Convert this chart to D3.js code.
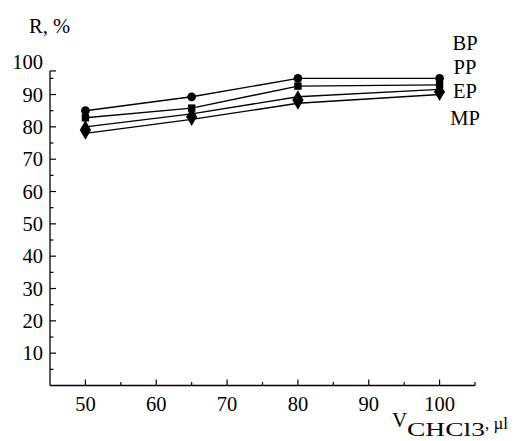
<!DOCTYPE html>
<html>
<head>
<meta charset="utf-8">
<script src="https://cdn.jsdelivr.net/npm/d3@7"></script>
<style>
    body { margin: 0; background: #fff; }
    svg text { font-family: "Liberation Serif", "DejaVu Serif", serif; fill: #000; }
</style>
</head>
<body>
<div id="plot"></div>
<script>
var volumes = [50, 65, 80, 100];
var seriesNames = ["BP", "PP", "EP", "MP"];
var bpValues = [85.0, 89.3, 95.0, 95.0];
var ppValues = [82.8, 85.8, 92.6, 93.0];
var epValues = [80.0, 84.0, 89.3, 91.6];
var mpValues = [78.0, 82.3, 87.3, 90.0];
var xTicks = [50, 60, 70, 80, 90, 100];
var yTicks = [10, 20, 30, 40, 50, 60, 70, 80, 90, 100];

var width = 516;
var height = 441;

var svg = d3
    .select("#plot")
    .append("svg")
    .attr("width", width)
    .attr("height", height)
    .attr("font-family", "Liberation Serif");

svg.append("rect").attr("width", width).attr("height", height).attr("fill", "#fff");

var x = d3.scaleLinear().domain([45, 105]).range([50, 475]);
var y = d3.scaleLinear().domain([0, 100]).range([385.5, 62.2]);
var yTop = 97.3;

// axes lines
svg.append("line")
    .attr("x1", x(45)).attr("x2", x(105))
    .attr("y1", y(0)).attr("y2", y(0))
    .attr("stroke", "#000").attr("stroke-width", 1.3);
svg.append("line")
    .attr("x1", x(45)).attr("x2", x(45))
    .attr("y1", y(0)).attr("y2", y(yTop))
    .attr("stroke", "#000").attr("stroke-width", 1.3);

// x ticks (inward)
var xMinor = d3.range(50, 106, 5);
svg.selectAll(".xtick")
    .data(xMinor)
    .enter()
    .append("line")
    .attr("x1", (d) => x(d)).attr("x2", (d) => x(d))
    .attr("y1", y(0))
    .attr("y2", (d) => y(0) - (d % 10 == 0 ? 6 : 3.5))
    .attr("stroke", "#000").attr("stroke-width", 1.2);
svg.selectAll(".xlabel")
    .data(xTicks)
    .enter()
    .append("text")
    .attr("x", (d) => x(d))
    .attr("y", 411)
    .attr("text-anchor", "middle")
    .style("font-size", "20.5px")
    .text((d) => d);

// y ticks (inward)
var yMinor = d3.range(5, 96, 5).concat([yTop]);
svg.selectAll(".ytick")
    .data(yMinor)
    .enter()
    .append("line")
    .attr("x1", x(45))
    .attr("x2", (d) => x(45) + (d % 10 == 0 || d == yTop ? 6 : 3.5))
    .attr("y1", (d) => y(d)).attr("y2", (d) => y(d))
    .attr("stroke", "#000").attr("stroke-width", 1.2);
svg.selectAll(".ylabel")
    .data(yTicks)
    .enter()
    .append("text")
    .attr("x", 43)
    .attr("y", (d) => y(d) + 7)
    .attr("text-anchor", "end")
    .style("font-size", "20.5px")
    .text((d) => d);

// axis titles
svg.append("text")
    .attr("x", 29).attr("y", 33)
    .style("font-size", "20.5px")
    .text("R, %");

svg.append("text")
    .attr("x", 392).attr("y", 427)
    .style("font-size", "21px")
    .text("V");
svg.append("text")
    .attr("x", 407).attr("y", 436)
    .style("font-size", "19px")
    .attr("textLength", 78)
    .attr("lengthAdjust", "spacingAndGlyphs")
    .text("CHCl3");
svg.append("text")
    .attr("x", 485).attr("y", 429)
    .style("font-size", "17px")
    .text(", \u00b5l");

// series
var series = [
    { name: "BP", values: bpValues, marker: d3.symbolCircle },
    { name: "PP", values: ppValues, marker: d3.symbolSquare },
    { name: "EP", values: epValues, marker: d3.symbolTriangle },
    { name: "MP", values: mpValues, marker: "down" },
];

var line = d3.line()
    .x((d) => x(d[0]))
    .y((d) => y(d[1]));

series.forEach(function (s) {
    var pts = volumes.map((v, i) => [v, s.values[i]]);
    svg.append("path")
        .attr("d", line(pts))
        .attr("fill", "none")
        .attr("stroke", "#000")
        .attr("stroke-width", 1.4);
    var sym = s.marker == "down" ? d3.symbolTriangle : s.marker;
    svg.selectAll(".m" + s.name)
        .data(pts)
        .enter()
        .append("path")
        .attr("d", d3.symbol().type(sym).size(s.marker == d3.symbolCircle ? 60 : 55))
        .attr("transform", (d) => "translate(" + x(d[0]) + "," + y(d[1]) + ")" + (s.marker == "down" ? " rotate(180)" : ""))
        .attr("fill", "#000");
});

// labels at right
var labelY = [43, 67, 91, 118];
svg.selectAll(".slabel")
    .data(seriesNames)
    .enter()
    .append("text")
    .attr("x", 465)
    .attr("y", (d, i) => labelY[i] + 7)
    .attr("text-anchor", "middle")
    .style("font-size", "20.5px")
    .text((d) => d);
</script>
</body>
</html>
